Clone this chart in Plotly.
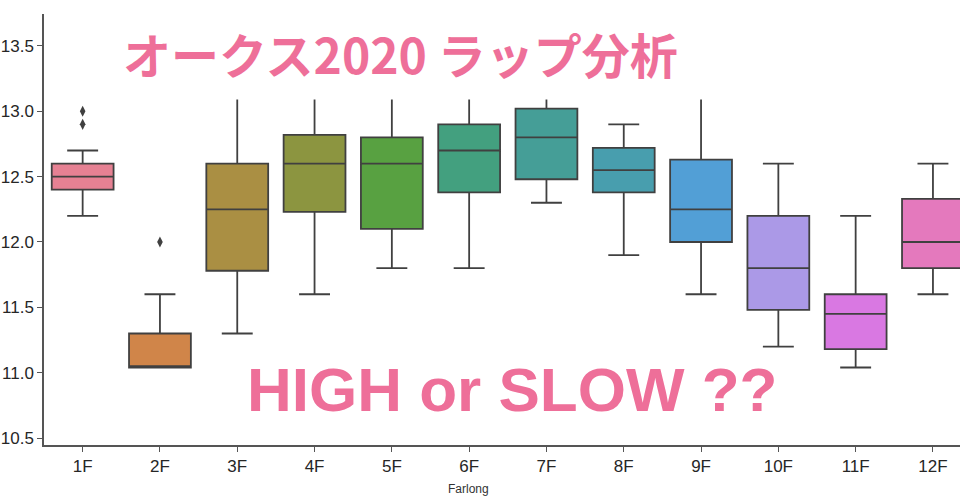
import math
import colorsys
import plotly.graph_objects as go

# ---------------- data ----------------
categories = ["1F", "2F", "3F", "4F", "5F", "6F", "7F", "8F", "9F", "10F", "11F", "12F"]
q1 = [12.40, 11.04, 11.78, 12.23, 12.10, 12.38, 12.48, 12.38, 12.00, 11.48, 11.18, 11.80]
median = [12.50, 11.05, 12.25, 12.60, 12.60, 12.70, 12.80, 12.55, 12.25, 11.80, 11.45, 12.00]
q3 = [12.60, 11.30, 12.60, 12.82, 12.80, 12.90, 13.02, 12.72, 12.63, 12.20, 11.60, 12.33]
lower_fence = [12.20, 11.04, 11.30, 11.60, 11.80, 11.80, 12.30, 11.90, 11.60, 11.20, 11.04, 11.60]
upper_fence = [12.70, 11.60, 13.20, 13.20, 13.20, 13.20, 13.20, 12.90, 13.20, 12.60, 12.20, 12.60]
outlier_cat = ["1F", "1F", "2F"]
outlier_val = [13.00, 12.90, 12.00]
y_ticks = [10.5, 11.0, 11.5, 12.0, 12.5, 13.0, 13.5]
y_tick_text = ["10.5", "11.0", "11.5", "12.0", "12.5", "13.0", "13.5"]
title_text = "オークス2020 ラップ分析"
overlay_text = "HIGH or SLOW ??"
x_title = "Farlong"

# ---------------- seaborn-like husl palette ----------------
_m = [[3.2406, -1.5372, -0.4986],
      [-0.9689, 1.8758, 0.0415],
      [0.0557, -0.2040, 1.0570]]
_refU, _refV = 0.19784, 0.46834
_lab_e, _lab_k = 0.008856, 903.3


def _max_chroma(L, H):
    hrad = math.radians(H)
    sinH, cosH = math.sin(hrad), math.cos(hrad)
    sub1 = (L + 16) ** 3 / 1560896.0
    sub2 = sub1 if sub1 > 0.008856 else L / 903.3
    result = float("inf")
    for m1, m2, m3 in _m:
        top = (0.99915 * m1 + 1.05122 * m2 + 1.14460 * m3) * sub2
        rbottom = 0.86330 * m3 - 0.17266 * m2
        lbottom = 0.12949 * m3 - 0.38848 * m1
        bottom = (rbottom * sinH + lbottom * cosH) * sub2
        for t in (0.0, 1.0):
            C = L * (top - 1.05122 * t) / (bottom + 0.17266 * sinH * t)
            if 0.0 < C < result:
                result = C
    return result


def _f_inv(t):
    return t ** 3 if t ** 3 > _lab_e else (116.0 * t - 16.0) / _lab_k


def _from_linear(c):
    return 12.92 * c if c <= 0.0031308 else 1.055 * c ** (1 / 2.4) - 0.055


def husl_to_rgb(H, S, L):
    C = _max_chroma(L, H) / 100.0 * S
    hrad = math.radians(H)
    U, V = math.cos(hrad) * C, math.sin(hrad) * C
    varY = _f_inv((L + 16.0) / 116.0)
    varU = U / (13.0 * L) + _refU
    varV = V / (13.0 * L) + _refV
    Y = varY
    X = 0.0 - (9.0 * Y * varU) / ((varU - 4.0) * varV - varU * varV)
    Z = (9.0 * Y - 15.0 * varV * Y - varV * X) / (3.0 * varV)
    rgb = [_from_linear(r[0] * X + r[1] * Y + r[2] * Z) for r in _m]
    return [min(max(v, 0.0), 1.0) for v in rgb]


def husl_palette(n, h=0.01, s=0.9, l=0.65):
    cols = []
    for i in range(n):
        hue = ((i / n) + h) % 1 * 359
        cols.append(husl_to_rgb(hue, s * 99, l * 99))
    return cols


def desaturate(rgb, prop):
    hh, ll, ss = colorsys.rgb_to_hls(*rgb)
    return colorsys.hls_to_rgb(hh, ll, ss * prop)


def to_hex(rgb):
    return "#%02x%02x%02x" % tuple(int(round(v * 255)) for v in rgb)


base = [desaturate(c, 0.75) for c in husl_palette(len(categories))]
lum = min(colorsys.rgb_to_hls(*c)[1] for c in base) * 0.6
gray = to_hex((lum, lum, lum))
fills = [to_hex(c) for c in base]

# ---------------- figure ----------------
fig = go.Figure()
for i, cat in enumerate(categories):
    fig.add_trace(go.Box(
        x=[cat], q1=[q1[i]], median=[median[i]], q3=[q3[i]],
        lowerfence=[lower_fence[i]], upperfence=[upper_fence[i]],
        fillcolor=fills[i], line=dict(color=gray, width=1.8),
        width=0.8, whiskerwidth=0.5, boxpoints=False,
        showlegend=False, hoverinfo="skip",
    ))

fig.add_trace(go.Scatter(
    x=outlier_cat, y=outlier_val, mode="markers",
    marker=dict(symbol="diamond-tall", size=8, color=gray),
    showlegend=False, hoverinfo="skip",
))

pink = "#ee6f99"
fig.update_layout(
    width=960, height=503,
    margin=dict(l=44, r=0, t=14, b=58),
    paper_bgcolor="white", plot_bgcolor="white",
    boxmode="overlay",
    font=dict(family="Liberation Sans, Arial, sans-serif", color="#262626"),
    xaxis=dict(
        type="category", categoryorder="array", categoryarray=categories,
        range=[-0.5, 11.35], showgrid=False, zeroline=False, automargin=False,
        showline=True, linecolor="#555555", linewidth=1.5,
        ticks="outside", ticklen=5, tickcolor="#555555", tickwidth=1.2,
        tickfont=dict(size=17, color="#262626"),
    ),
    yaxis=dict(
        range=[10.447, 13.744], showgrid=False, zeroline=False, automargin=False,
        showline=True, linecolor="#555555", linewidth=1.5,
        ticks="outside", ticklen=5, tickcolor="#555555", tickwidth=1.2,
        tickvals=y_ticks, ticktext=y_tick_text,
        tickfont=dict(size=17, color="#262626"),
    ),
    shapes=[dict(type="rect", xref="paper", yref="y",
                 x0=0.06, x1=1.0, y0=13.09, y1=13.9,
                 fillcolor="white", line=dict(width=0), layer="above")],
    annotations=[
        dict(text=title_text, xref="paper", yref="paper", x=0.3895, y=0.91,
             xanchor="center", yanchor="middle", showarrow=False,
             font=dict(family="Noto Sans CJK JP", size=48, color=pink, weight="bold")),
        dict(text=overlay_text, xref="paper", yref="paper", x=0.5108, y=0.128,
             xanchor="center", yanchor="middle", showarrow=False,
             font=dict(family="Liberation Sans", size=62, color=pink, weight="bold")),
        dict(text=x_title, xref="paper", yref="paper", x=0.4638, y=-0.102,
             xanchor="center", yanchor="middle", showarrow=False,
             font=dict(size=12, color="#333333")),
    ],
)

fig.write_html("out.html", config={"displayModeBar": False},
               post_script="document.body.style.margin='0px';")
